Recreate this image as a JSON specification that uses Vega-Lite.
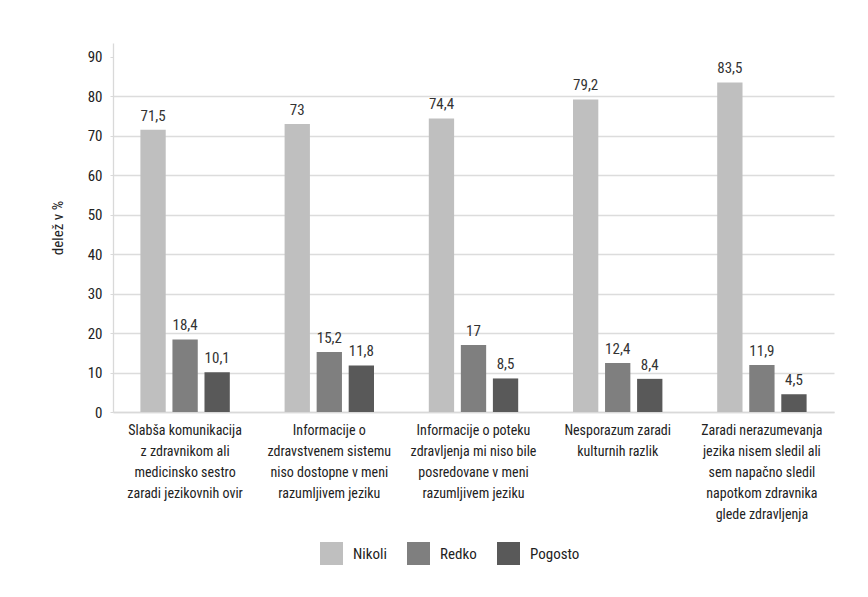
{
  "$schema": "https://vega.github.io/schema/vega-lite/v6.json",
  "width": 721,
  "height": 369,
  "autosize": {"type": "none"},
  "padding": {"left": 113, "top": 43, "right": 34, "bottom": 185},
  "background": "white",
  "config": {
    "font": "Roboto Condensed, Noto Sans Condensed, DejaVu Sans Condensed, Liberation Sans Narrow, Arial Narrow, Roboto",
    "view": {"stroke": null},
    "locale": {"number": {"decimal": ",", "thousands": ".", "grouping": [3], "currency": ["", " €"]}}
  },
  "data": {
    "values": [
      {"kategorija": "Slabša komunikacija\nz zdravnikom ali\nmedicinsko sestro\nzaradi jezikovnih ovir", "odgovor": "Nikoli", "delez": 71.5},
      {"kategorija": "Slabša komunikacija\nz zdravnikom ali\nmedicinsko sestro\nzaradi jezikovnih ovir", "odgovor": "Redko", "delez": 18.4},
      {"kategorija": "Slabša komunikacija\nz zdravnikom ali\nmedicinsko sestro\nzaradi jezikovnih ovir", "odgovor": "Pogosto", "delez": 10.1},
      {"kategorija": "Informacije o\nzdravstvenem sistemu\nniso dostopne v meni\nrazumljivem jeziku", "odgovor": "Nikoli", "delez": 73},
      {"kategorija": "Informacije o\nzdravstvenem sistemu\nniso dostopne v meni\nrazumljivem jeziku", "odgovor": "Redko", "delez": 15.2},
      {"kategorija": "Informacije o\nzdravstvenem sistemu\nniso dostopne v meni\nrazumljivem jeziku", "odgovor": "Pogosto", "delez": 11.8},
      {"kategorija": "Informacije o poteku\nzdravljenja mi niso bile\nposredovane v meni\nrazumljivem jeziku", "odgovor": "Nikoli", "delez": 74.4},
      {"kategorija": "Informacije o poteku\nzdravljenja mi niso bile\nposredovane v meni\nrazumljivem jeziku", "odgovor": "Redko", "delez": 17},
      {"kategorija": "Informacije o poteku\nzdravljenja mi niso bile\nposredovane v meni\nrazumljivem jeziku", "odgovor": "Pogosto", "delez": 8.5},
      {"kategorija": "Nesporazum zaradi\nkulturnih razlik", "odgovor": "Nikoli", "delez": 79.2},
      {"kategorija": "Nesporazum zaradi\nkulturnih razlik", "odgovor": "Redko", "delez": 12.4},
      {"kategorija": "Nesporazum zaradi\nkulturnih razlik", "odgovor": "Pogosto", "delez": 8.4},
      {"kategorija": "Zaradi nerazumevanja\njezika nisem sledil ali\nsem napačno sledil\nnapotkom zdravnika\nglede zdravljenja", "odgovor": "Nikoli", "delez": 83.5},
      {"kategorija": "Zaradi nerazumevanja\njezika nisem sledil ali\nsem napačno sledil\nnapotkom zdravnika\nglede zdravljenja", "odgovor": "Redko", "delez": 11.9},
      {"kategorija": "Zaradi nerazumevanja\njezika nisem sledil ali\nsem napačno sledil\nnapotkom zdravnika\nglede zdravljenja", "odgovor": "Pogosto", "delez": 4.5}
    ]
  },
  "encoding": {
    "x": {
      "field": "kategorija",
      "type": "nominal",
      "sort": null,
      "scale": {"paddingInner": 0.38, "paddingOuter": 0.19},
      "axis": {
        "title": null,
        "labelAngle": 0,
        "ticks": false,
        "domainColor": "#d9d9d9",
        "domainWidth": 1.5,
        "labelExpr": "split(datum.label, '\\n')",
        "labelFontSize": 14,
        "labelColor": "#222222",
        "labelPadding": 11,
        "labelLineHeight": 21,
        "labelLimit": 250,
        "labelBaseline": "top"
      }
    },
    "xOffset": {
      "field": "odgovor",
      "type": "nominal",
      "sort": ["Nikoli", "Redko", "Pogosto"],
      "scale": {"paddingInner": 0.21, "paddingOuter": 0}
    },
    "y": {
      "field": "delez",
      "type": "quantitative",
      "scale": {"domain": [0, 93.5], "nice": false},
      "axis": {
        "values": [0, 10, 20, 30, 40, 50, 60, 70, 80, 90],
        "grid": true,
        "gridColor": {"condition": {"test": "datum.value === 90", "value": "transparent"}, "value": "#dcdcdc"},
        "gridWidth": 1.3,
        "tickSize": 3,
        "tickColor": "#d9d9d9",
        "domainColor": "#d9d9d9",
        "domainWidth": 1.3,
        "labelFontSize": 15,
        "labelColor": "#222222",
        "labelPadding": 8,
        "title": "delež v %",
        "titleFontSize": 15,
        "titleFontWeight": "normal",
        "titleColor": "#222222",
        "titlePadding": 22
      }
    }
  },
  "layer": [
    {
      "mark": {"type": "bar"},
      "encoding": {
        "color": {
          "field": "odgovor",
          "type": "nominal",
          "scale": {"domain": ["Nikoli", "Redko", "Pogosto"], "range": ["#bfbfbf", "#7f7f7f", "#595959"]},
          "legend": {
            "orient": "none",
            "legendX": 207,
            "legendY": 499,
            "direction": "horizontal",
            "title": null,
            "symbolType": "square",
            "symbolSize": 529,
            "symbolStrokeWidth": 0,
            "symbolOpacity": 1,
            "labelFontSize": 15,
            "labelColor": "#222222",
            "labelOffset": 10,
            "columnPadding": 20
          }
        }
      }
    },
    {
      "mark": {"type": "text", "dy": -9, "baseline": "alphabetic", "fontSize": 15, "color": "#333333"},
      "encoding": {
        "text": {"field": "delez", "type": "quantitative", "format": ".1~f"}
      }
    }
  ]
}
